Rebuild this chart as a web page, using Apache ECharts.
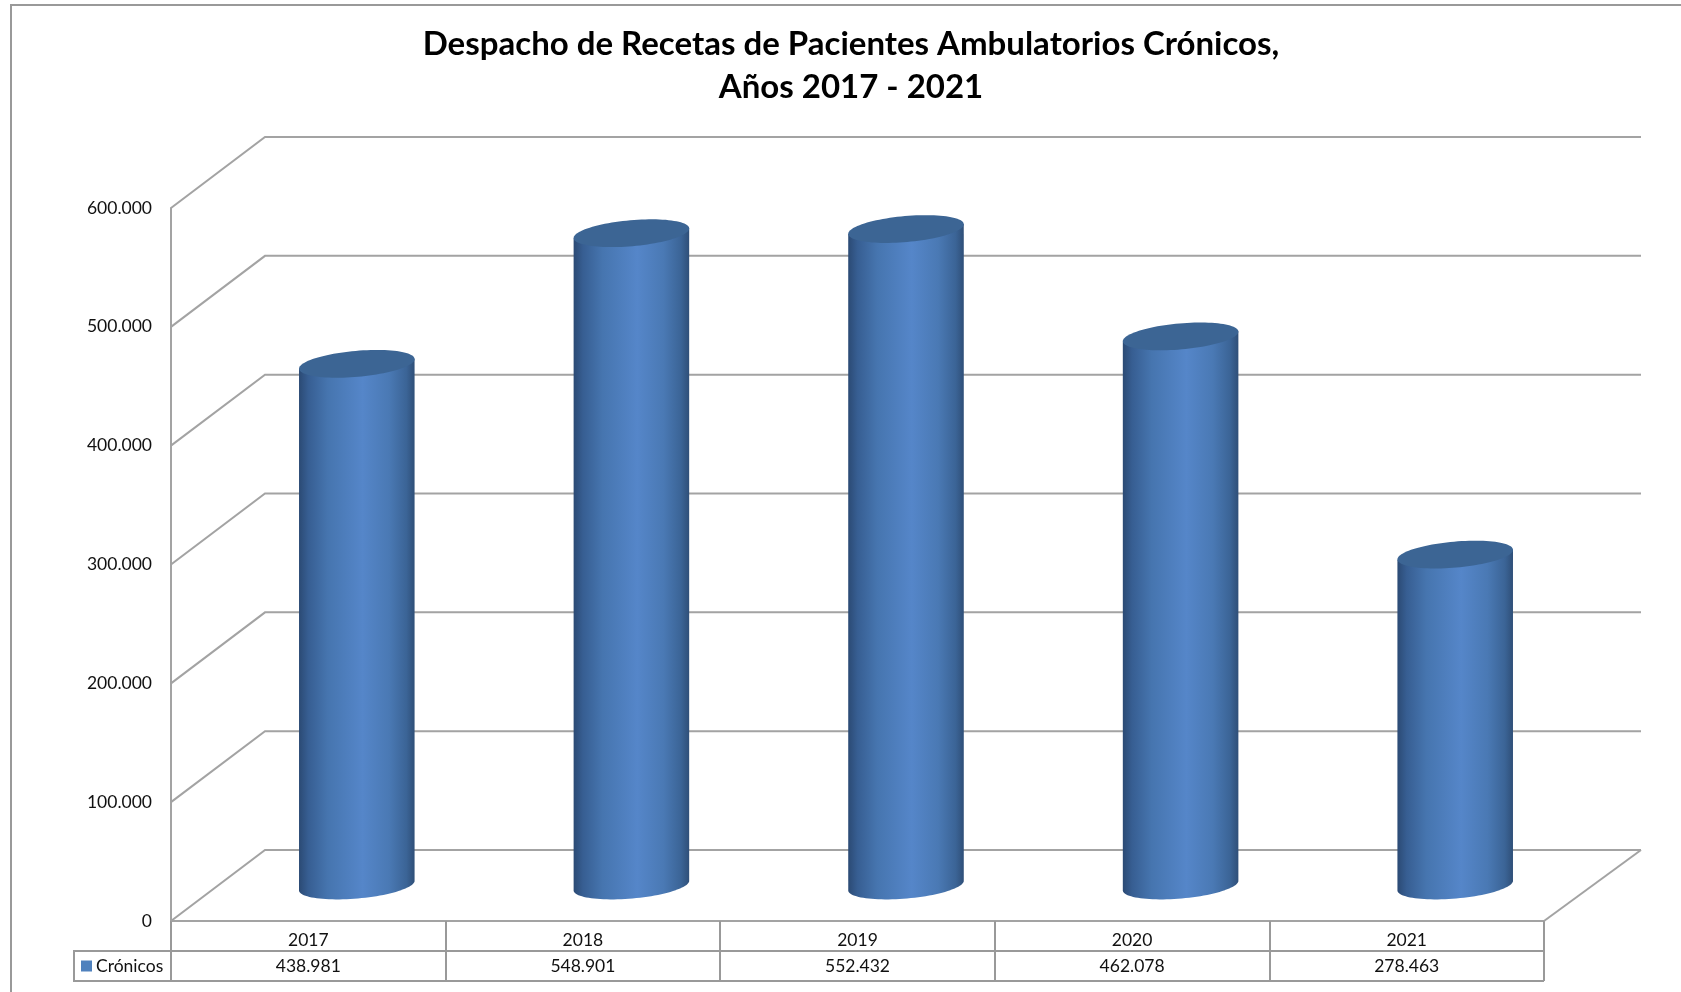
<!DOCTYPE html>
<html>
<head>
<meta charset="utf-8">
<title>Despacho de Recetas</title>
<script src="https://cdn.jsdelivr.net/npm/echarts@6/dist/echarts.min.js"></script>
<style>
html,body{margin:0;padding:0;background:#fff;}
#main{width:1681px;height:992px;}
</style>
</head>
<body>
<div id="main"></div>
<script>
var categories=['2017','2018','2019','2020','2021'];
var cronicos=[438981,548901,552432,462078,278463];
var valueTicks=[0,100000,200000,300000,400000,500000,600000];

// profundidad del piso (estilo 3D de excel)
var depthX=94,depthY=71;
var barHalf=58,barTilt=-5*Math.PI/180,barMinor=13;
var lineColor='#a3a3a3';
var font='Lato';

function fmt(v){
	return String(v).replace(/\B(?=(\d{3})+$)/g,'.');
}

function ellipsePoint(cx,cy,t){
	var ax=barHalf*Math.cos(t),ay=barMinor*Math.sin(t);
	return [cx+ax*Math.cos(barTilt)-ay*Math.sin(barTilt),cy+ax*Math.sin(barTilt)+ay*Math.cos(barTilt)];
}

function renderWall(params,api){
	var sys=params.coordSys;
	var y=api.coord([0,api.value(1)])[1];
	var left=sys.x,right=sys.x+sys.width;
	var children=[{
		type:'polyline',
		shape:{points:[[left,y],[left+depthX,y-depthY],[right+depthX+3,y-depthY]]},
		style:{stroke:lineColor,lineWidth:2,fill:null}
	}];
	if(api.value(1)===0){
		children.push({
			type:'line',
			shape:{x1:right,y1:y,x2:right+depthX+3,y2:y-depthY},
			style:{stroke:lineColor,lineWidth:2}
		});
	}
	return {type:'group',children:children};
}

function renderCylinder(params,api){
	var base=api.coord([api.value(0),0]);
	var top=api.coord([api.value(0),api.value(1)]);
	var cx=base[0]+depthX/2+1.5,baseY=base[1]-depthY/2,topY=top[1]-depthY/2;
	var pts=[],lid=[],i;
	// cuerpo: borde superior, luego el arco inferior
	pts.push(ellipsePoint(cx,topY,Math.PI));
	for(i=0;i<=48;i++){
		pts.push(ellipsePoint(cx,baseY,Math.PI-Math.PI*i/48));
	}
	pts.push(ellipsePoint(cx,topY,0));
	for(i=0;i<96;i++){
		lid.push(ellipsePoint(cx,topY,2*Math.PI*i/96));
	}
	return {type:'group',children:[{
		type:'polygon',
		shape:{points:pts},
		style:{fill:new echarts.graphic.LinearGradient(0,0,1,0,[
			{offset:0,color:'#2b4a74'},
			{offset:0.08,color:'#375e92'},
			{offset:0.25,color:'#4675af'},
			{offset:0.55,color:'#5586c9'},
			{offset:0.78,color:'#4a79b4'},
			{offset:0.93,color:'#3b6496'},
			{offset:1,color:'#2f4f78'}
		])}
	},{
		type:'polygon',
		shape:{points:lid},
		style:{fill:'#3c6594'}
	}]};
}

var chart=echarts.init(document.getElementById('main'));
var option={
	animation:false,
	backgroundColor:'#fff',
	textStyle:{fontFamily:font},
	title:{
		text:'Despacho de Recetas de Pacientes Ambulatorios Crónicos,\nAños 2017 - 2021',
		left:846,
		top:18,
		textAlign:'center',
		textStyle:{fontFamily:font,fontSize:33,fontWeight:'bold',color:'#000',lineHeight:43}
	},
	legend:{
		data:['Crónicos'],
		left:81,
		top:957,
		padding:0,
		itemWidth:11,
		itemHeight:11,
		itemGap:0,
		icon:'rect',
		selectedMode:false,
		textStyle:{fontFamily:font,fontSize:17.5,color:'#111',padding:[0,0,0,-1]}
	},
	grid:{left:171,right:137,top:208,bottom:71},
	xAxis:{
		type:'category',
		data:categories,
		axisLine:{lineStyle:{color:lineColor,width:2}},
		axisTick:{show:true,length:60,lineStyle:{color:'#999',width:2}},
		axisLabel:{
			margin:6,
			formatter:function(v,i){
				return '{a|'+v+'}\n{a|'+fmt(cronicos[i])+'}';
			},
			rich:{a:{fontFamily:font,fontSize:17.5,color:'#111',lineHeight:26}}
		}
	},
	yAxis:{
		type:'value',
		min:0,
		max:600000,
		interval:100000,
		axisLine:{show:true,lineStyle:{color:lineColor,width:2}},
		axisTick:{show:false},
		splitLine:{show:false},
		axisLabel:{
			margin:19,
			fontFamily:font,
			fontSize:17.5,
			color:'#111',
			padding:[8,0,0,0],
			formatter:function(v){return fmt(v);}
		}
	},
	graphic:[
		{type:'polyline',shape:{points:[[11,992],[11,5],[1681,5]]},style:{stroke:'#999',lineWidth:2,fill:null}},
		{type:'polyline',shape:{points:[[171,951],[74,951],[74,981],[1544,981]]},style:{stroke:'#999',lineWidth:2,fill:null}},
		{type:'line',shape:{x1:171,y1:951,x2:1544,y2:951},style:{stroke:'#999',lineWidth:2}}
	],
	series:[{
		type:'custom',
		name:'pared',
		z:1,
		silent:true,
		renderItem:renderWall,
		data:valueTicks.map(function(t){return [0,t];})
	},{
		type:'custom',
		name:'Crónicos',
		z:3,
		itemStyle:{color:'#4f81bd'},
		renderItem:renderCylinder,
		data:cronicos.map(function(v,i){return [i,v];})
	}]
};
chart.setOption(option);
</script>
</body>
</html>
